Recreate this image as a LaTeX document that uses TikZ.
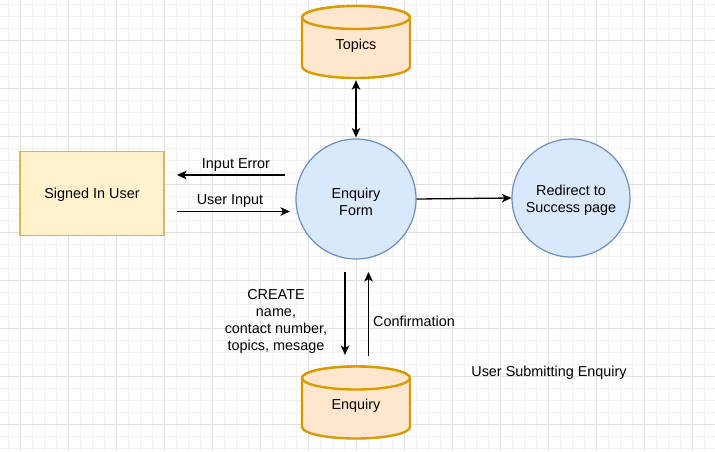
\documentclass[tikz,border=0pt]{standalone}
\usepackage{fontspec}
\setmainfont{Liberation Sans}
\usetikzlibrary{arrows.meta,calc}
\definecolor{gridminor}{HTML}{F2F2F2}
\definecolor{gridmajor}{HTML}{E0E0E0}
\definecolor{blueF}{HTML}{DAE8FC}
\definecolor{blueD}{HTML}{6C8EBF}
\definecolor{yelF}{HTML}{FFF2CC}
\definecolor{yelD}{HTML}{D6B656}
\definecolor{orF}{HTML}{FFE6CC}
\definecolor{orD}{HTML}{D79B00}
\newcommand\cylstore[4]{%
  \path[cylbody] (#2-54,#3-24.5) -- (#2-54,#3+24.5)
    arc[start angle=180,end angle=360,x radius=54pt,y radius=11.5pt]
    -- (#2+54,#3-24.5)
    arc[start angle=0,end angle=180,x radius=54pt,y radius=11.5pt] -- cycle;
  \path[cylbody] (#2,#3-24.5) ellipse[x radius=54pt,y radius=11.5pt];
  \node[store] (#1) at (#2,#3) {};
  \node[lbl] (#1-text) at (#2,#3+3.5) {#4};
}
\begin{document}
\begin{tikzpicture}[x=1pt,y=-1pt,
  every node/.style={font=\fontsize{14.4}{16.9}\selectfont, text=black},
  proc/.style={circle, draw=blueD, fill=blueF, line width=1.2pt, inner sep=0pt},
  actor/.style={rectangle, draw=yelD, fill=yelF, line width=1.2pt, minimum width=144pt, minimum height=84pt, inner sep=0pt},
  store/.style={rectangle, minimum width=108pt, minimum height=72pt, inner sep=0pt},
  cylbody/.style={fill=orF, draw=orD, line width=2.4pt},
  flow/.style={line width=1.3pt, -{Stealth[length=9.5pt,width=8.5pt,inset=2.5pt]}},
  lbl/.style={align=center, inner sep=0pt},
  gmin/.style={draw=gridminor, line width=1pt},
  gmaj/.style={draw=gridmajor, line width=1pt},
]
\useasboundingbox (0,0) rectangle (715,451);
\fill[white] (0,0) rectangle (715,451);
\foreach \x in {8,20,...,715} \draw[gmin] (\x,0) -- (\x,451);
\foreach \y in {4,16,...,451} \draw[gmin] (0,\y) -- (715,\y);
\foreach \x in {20,68,...,715} \draw[gmaj] (\x,0) -- (\x,451);
\foreach \y in {40,88,...,451} \draw[gmaj] (0,\y) -- (715,\y);

% nodes
\cylstore{topics}{356}{42}{Topics}
\cylstore{enquiry}{356}{402.5}{Enquiry}
\node[actor] (user) at (92,193.5) {};
\node[proc, minimum size=120pt] (form) at (356,199) {};
\node[proc, minimum size=118pt] (redirect) at (571,198) {};
\node[lbl] (user-text) at (92,195) {Signed In User};
\node[lbl] (form-text) at (356,201.5) {Enquiry\\Form};
\node[lbl] (redirect-text) at (571,200.5) {Redirect to\\Success page};

% connector end points
\coordinate (ieS) at (285,175);
\coordinate (ieE) at (177,175);
\coordinate (uiS) at (177,211.5);
\coordinate (uiE) at (290,211.5);
\coordinate (dnS) at (345,272);
\coordinate (dnE) at (345,355);
\coordinate (upS) at (368.5,356);
\coordinate (upE) at (368.5,272);

% connectors
\draw[flow, {Stealth[length=9.5pt,width=8.5pt,inset=2.5pt]}-{Stealth[length=9.5pt,width=8.5pt,inset=2.5pt]}, shorten <=2pt, shorten >=1pt] (topics.south) -- (form.north);
\draw[flow] (ieS) -- (ieE);
\draw[flow] (uiS) -- (uiE);
\draw[flow] (form.east) -- (redirect.west);
\draw[flow] (dnS) -- (dnE);
\draw[flow] (upS) -- (upE);

% labels
\node[lbl] (lie) at (236,165.5) {Input Error};
\node[lbl] (lui) at (230,201.5) {User Input};
\node[lbl] (lcreate) at (276,321.5) {CREATE\\name,\\contact number,\\topics, mesage};
\node[lbl] (lconf) at (414,321.5) {Confirmation};
\node[lbl] (ltitle) at (549,372.5) {User Submitting Enquiry};
\end{tikzpicture}
\end{document}
